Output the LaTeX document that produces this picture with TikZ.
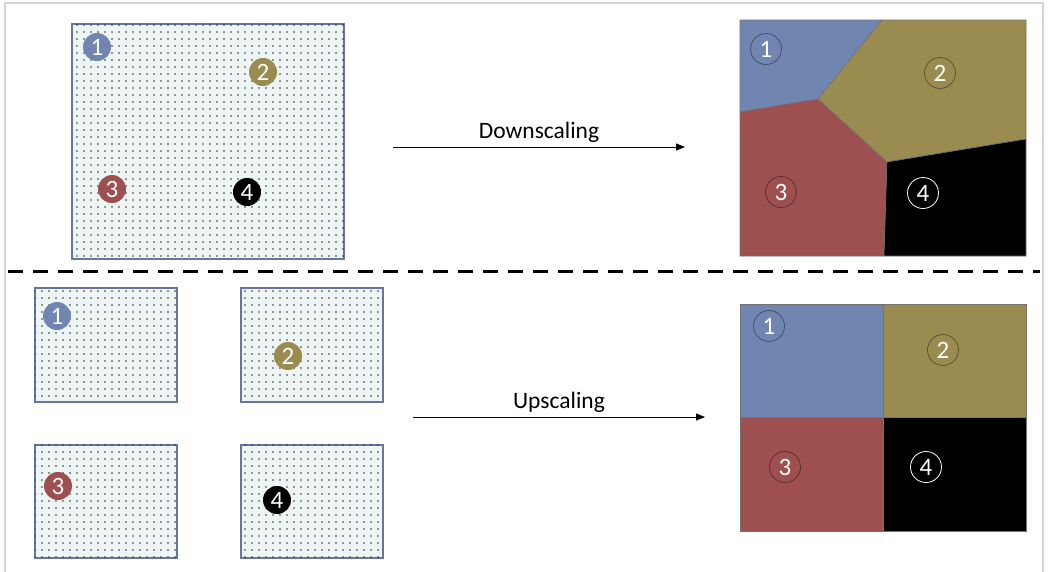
\documentclass[tikz,border=0pt]{standalone}
\usepackage{fontspec}
\setmainfont{Carlito}
\usetikzlibrary{patterns.meta,arrows.meta}
\definecolor{cblue}{HTML}{7086B0}
\definecolor{colive}{HTML}{9A8C50}
\definecolor{cred}{HTML}{9E4F4F}
\definecolor{boxline}{HTML}{66769E}
\definecolor{boxfill}{HTML}{EEF5F5}
\definecolor{framec}{HTML}{D4D4D4}
\tikzset{
  dotbox/.style={draw=boxline, line width=1.5pt, fill=boxfill, postaction={pattern={Dots[distance=7pt,radius=0.8pt]}, pattern color=black!80}},
  pin/.style={circle, fill=#1, text=white, minimum size=28pt, inner sep=0pt, font=\fontsize{25}{25}\selectfont},
  ring/.style={circle, draw=#1, line width=0.8pt, text=white, minimum size=31pt, inner sep=0pt, font=\fontsize{25}{25}\selectfont},
  region/.style={fill=#1, draw=black!55, line width=0.6pt},
  arr/.style={line width=0.8pt, -{Triangle[length=9pt,width=7pt]}},
  lbl/.style={font=\fontsize{23.5}{25}\selectfont, above, inner sep=4pt}
}
\begin{document}
\begin{tikzpicture}[x=1pt,y=-1pt]
\useasboundingbox (0,0) rectangle (1049,571);
% frame
\draw[framec, line width=2pt] (5,575) -- (5,3) -- (1043,3) -- (1043,575);
% dashed separator
\draw[line width=3pt, dash pattern=on 15pt off 10pt] (8,271) -- (1040,271);

% ---- top left
\node[dotbox, minimum width=272pt, minimum height=235pt, inner sep=0pt, anchor=north west] (big) at (71,23) {};
\node[pin=cblue] (t1) at (97,47) {1};
\node[pin=colive] (t2) at (263,72) {2};
\node[pin=cred] (t3) at (112,189) {3};
\node[pin=black] (t4) at (247,192) {4};

% arrow downscaling
\coordinate (d1) at (393,147);
\coordinate (d2) at (685,147);
\draw[arr] (d1) -- node[lbl] {Downscaling} (d2);

% ---- top right voronoi
\coordinate (A) at (740,20);
\coordinate (B) at (882,20);
\coordinate (C) at (1026,20);
\coordinate (J1) at (818,99);
\coordinate (L) at (740,112);
\coordinate (J2) at (887,162);
\coordinate (R) at (1026,139);
\coordinate (D) at (884,256);
\coordinate (E) at (740,256);
\coordinate (F) at (1026,256);
\draw[region=cblue] (A) -- (B) -- (J1) -- (L) -- cycle;
\draw[region=colive] (B) -- (C) -- (R) -- (J2) -- (J1) -- cycle;
\draw[region=cred] (L) -- (J1) -- (J2) -- (D) -- (E) -- cycle;
\draw[region=black] (J2) -- (R) -- (F) -- (D) -- cycle;
\node[ring=cblue!60!black] (v1) at (766,49) {1};
\node[ring=colive!60!black] (v2) at (940,73) {2};
\node[ring=cred!60!black] (v3) at (781,192) {3};
\node[ring=white] (v4) at (923,193) {4};

% ---- bottom left
\node[dotbox, minimum width=142pt, minimum height=114pt, inner sep=0pt, anchor=north west] (s1) at (34,287) {};
\node[dotbox, minimum width=142pt, minimum height=114pt, inner sep=0pt, anchor=north west] (s2) at (240,287) {};
\node[dotbox, minimum width=142pt, minimum height=113pt, inner sep=0pt, anchor=north west] (s3) at (34,444) {};
\node[dotbox, minimum width=142pt, minimum height=113pt, inner sep=0pt, anchor=north west] (s4) at (240,444) {};
\node[pin=cblue] (b1) at (57,316) {1};
\node[pin=colive] (b2) at (288,356) {2};
\node[pin=cred] (b3) at (58,486) {3};
\node[pin=black] (b4) at (277,500) {4};

% arrow upscaling
\coordinate (u1) at (413,417);
\coordinate (u2) at (705,417);
\draw[arr] (u1) -- node[lbl] {Upscaling} (u2);

% ---- bottom right grid
\draw[region=cblue] (740,304) rectangle (883,417);
\draw[region=colive] (883,304) rectangle (1026,417);
\draw[region=cred] (740,417) rectangle (883,531);
\draw[region=black] (883,417) rectangle (1026,531);
\node[ring=cblue!60!black] (g1) at (769,326) {1};
\node[ring=colive!60!black] (g2) at (943,350) {2};
\node[ring=cred!60!black] (g3) at (785,467) {3};
\node[ring=white] (g4) at (926,467) {4};
\end{tikzpicture}
\end{document}
